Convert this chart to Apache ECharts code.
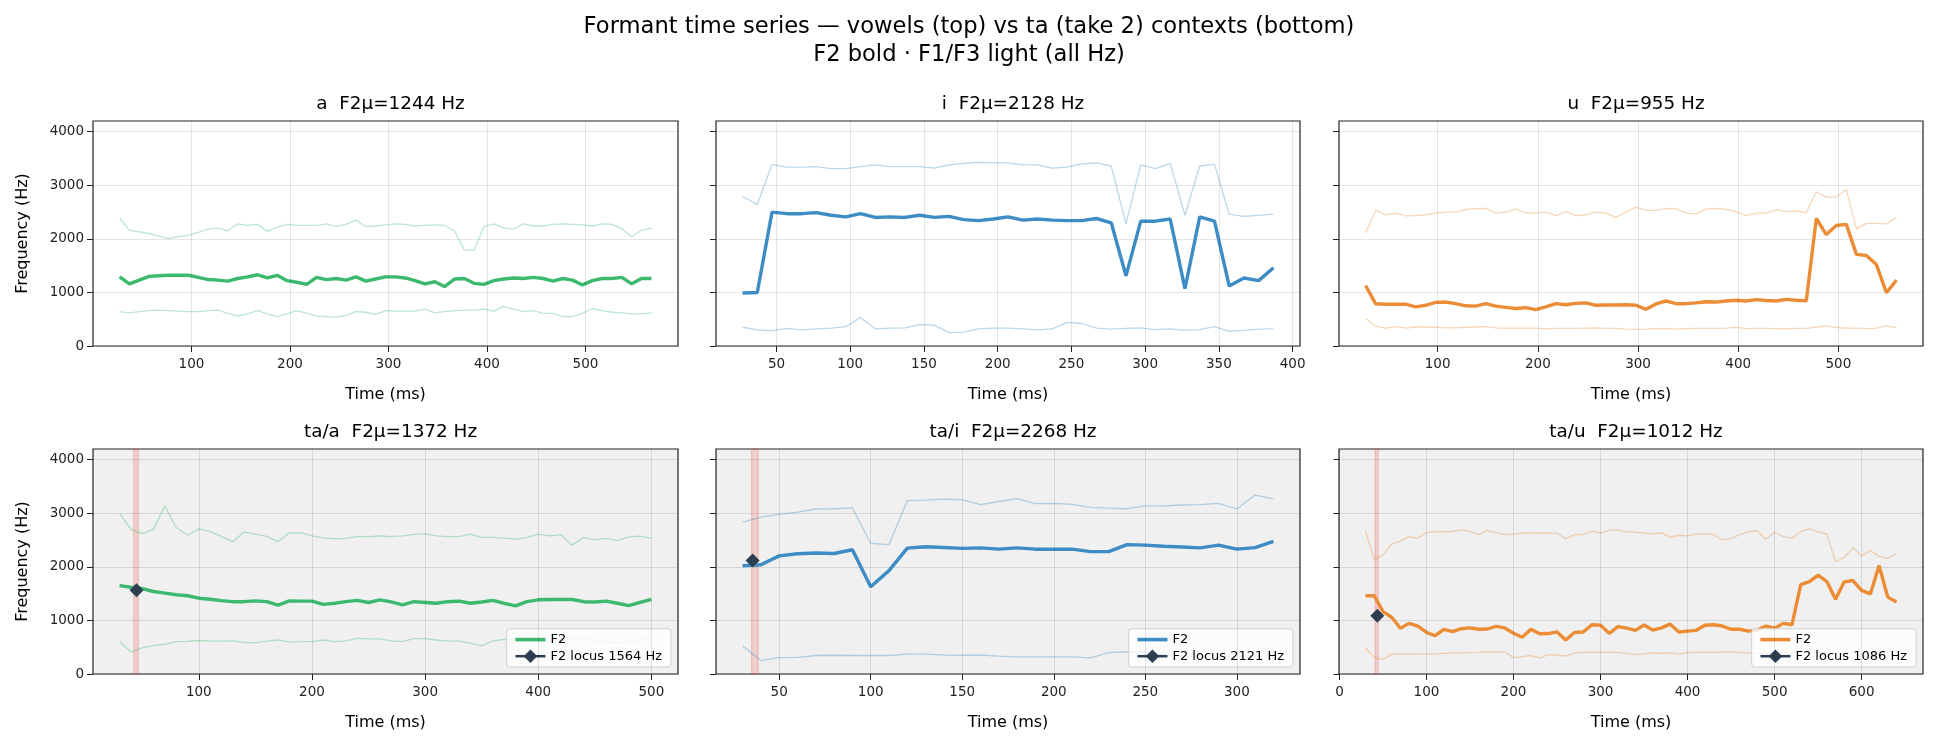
<!DOCTYPE html>
<html>
<head>
<meta charset="utf-8">
<script src="https://cdn.jsdelivr.net/npm/echarts@6/dist/echarts.min.js"></script>
<style>
  html, body { margin: 0; padding: 0; background: #fff; }
  #chart { width: 1938px; height: 745px; }
</style>
</head>
<body>
<div id="chart"></div>
<script>
// sample times (ms) and formant tracks (Hz)

// --- vowel a ---
const aTimes = [27, 37, 47, 57, 67, 77, 87, 97, 107, 117, 127, 137, 147, 157, 167, 177, 187, 197, 207, 217,
  227, 237, 247, 257, 267, 277, 287, 297, 307, 317, 327, 337, 347, 357, 367, 377, 387, 397, 407, 417,
  427, 437, 447, 457, 467, 477, 487, 497, 507, 517, 527, 537, 547, 557, 567]
const aF1 = [640, 620, 640, 660, 670, 660, 650, 640, 640, 660, 670, 610, 560, 600, 660, 600, 550, 600, 660, 610,
  560, 550, 540, 570, 640, 630, 590, 660, 650, 650, 650, 690, 620, 640, 660, 670, 670, 690, 650, 740,
  690, 640, 660, 610, 610, 550, 550, 610, 700, 660, 630, 620, 600, 600, 620]
const aF2 = [1290, 1160, 1230, 1300, 1310, 1320, 1320, 1320, 1280, 1240, 1230, 1210, 1260, 1290, 1330, 1270, 1320, 1220, 1190, 1150,
  1280, 1240, 1260, 1230, 1290, 1210, 1250, 1290, 1290, 1270, 1220, 1160, 1200, 1110, 1250, 1260, 1170, 1150, 1220, 1250,
  1270, 1260, 1280, 1260, 1210, 1260, 1230, 1140, 1220, 1260, 1260, 1280, 1160, 1260, 1260]
const aF3 = [2390, 2160, 2130, 2100, 2050, 2010, 2040, 2070, 2120, 2180, 2200, 2150, 2280, 2250, 2270, 2140, 2220, 2270, 2250, 2250,
  2250, 2280, 2230, 2270, 2350, 2230, 2240, 2260, 2280, 2270, 2240, 2250, 2260, 2250, 2150, 1790, 1790, 2230, 2280, 2200,
  2180, 2280, 2240, 2240, 2270, 2280, 2270, 2260, 2240, 2280, 2270, 2190, 2040, 2160, 2200]

// --- vowel i ---
const iTimes = [27, 37, 47, 57, 67, 77, 87, 97, 107, 117, 127, 137, 147, 157, 167, 177, 187, 197, 207, 217,
  227, 237, 247, 257, 267, 277, 287, 297, 307, 317, 327, 337, 347, 357, 367, 377, 387]
const iF1 = [350, 300, 285, 330, 300, 320, 335, 360, 530, 320, 335, 340, 400, 390, 250, 260, 320, 335, 335, 320,
  300, 320, 440, 420, 335, 315, 330, 340, 305, 320, 290, 305, 360, 275, 290, 315, 320]
const iF2 = [990, 1000, 2500, 2470, 2470, 2490, 2440, 2410, 2470, 2400, 2410, 2400, 2440, 2400, 2420, 2360, 2340, 2370, 2410, 2350,
  2370, 2350, 2340, 2340, 2380, 2300, 1310, 2330, 2330, 2370, 1070, 2410, 2330, 1120, 1270, 1220, 1460]
const iF3 = [2790, 2640, 3390, 3340, 3340, 3350, 3310, 3310, 3350, 3380, 3350, 3350, 3350, 3320, 3380, 3410, 3430, 3420, 3420, 3380,
  3380, 3320, 3340, 3400, 3420, 3360, 2280, 3380, 3310, 3410, 2440, 3360, 3390, 2460, 2420, 2440, 2460]

// --- vowel u ---
const uTimes = [28, 38, 48, 58, 68, 78, 88, 98, 108, 118, 128, 138, 148, 158, 168, 178, 188, 198, 208, 218,
  228, 238, 248, 258, 268, 278, 288, 298, 308, 318, 328, 338, 348, 358, 368, 378, 388, 398, 408, 418,
  428, 438, 448, 458, 468, 478, 488, 498, 508, 518, 528, 538, 548, 558]
const uF1 = [515, 375, 330, 360, 335, 355, 355, 350, 340, 340, 350, 355, 360, 340, 335, 335, 335, 335, 320, 330,
  330, 330, 335, 340, 330, 330, 315, 310, 315, 325, 330, 315, 325, 330, 330, 330, 335, 350, 325, 330,
  330, 325, 320, 330, 330, 355, 375, 345, 335, 335, 325, 335, 375, 345]
const uF2 = [1130, 790, 780, 780, 780, 730, 760, 815, 820, 790, 750, 745, 790, 745, 720, 700, 715, 680, 730, 790,
  770, 795, 805, 760, 765, 765, 770, 760, 685, 785, 840, 790, 790, 805, 825, 820, 840, 855, 840, 865,
  850, 840, 870, 855, 845, 2380, 2080, 2250, 2270, 1710, 1690, 1520, 995, 1230]
const uF3 = [2110, 2530, 2450, 2480, 2430, 2435, 2450, 2480, 2500, 2500, 2550, 2565, 2570, 2480, 2500, 2560, 2480, 2480, 2500, 2435,
  2510, 2435, 2450, 2500, 2480, 2400, 2500, 2590, 2530, 2530, 2570, 2560, 2480, 2465, 2560, 2570, 2550, 2510, 2435, 2480,
  2480, 2540, 2510, 2520, 2490, 2880, 2780, 2780, 2920, 2190, 2290, 2290, 2280, 2400]

// --- ta/a ---
const taATimes = [30, 40, 50, 60, 70, 80, 90, 100, 110, 120, 130, 140, 150, 160, 170, 180, 190, 200, 210, 220,
  230, 240, 250, 260, 270, 280, 290, 300, 310, 320, 330, 340, 350, 360, 370, 380, 390, 400, 410, 420,
  430, 440, 450, 460, 470, 480, 490, 500]
const taAF1 = [605, 415, 490, 530, 555, 605, 610, 625, 615, 615, 620, 590, 580, 615, 635, 595, 605, 605, 635, 605,
  620, 665, 655, 655, 620, 605, 660, 660, 635, 620, 615, 575, 525, 620, 645, 635, 620, 605, 620, 635,
  635, 665, 635, 605, 575, 605, 645, 665]
const taAF2 = [1650, 1620, 1595, 1540, 1510, 1480, 1460, 1415, 1395, 1370, 1350, 1350, 1365, 1350, 1285, 1365, 1360, 1360, 1300, 1320,
  1350, 1375, 1335, 1385, 1345, 1290, 1350, 1335, 1320, 1350, 1360, 1320, 1345, 1375, 1320, 1270, 1350, 1385, 1390, 1390,
  1390, 1350, 1345, 1360, 1320, 1275, 1335, 1395]
const taAF3 = [3000, 2700, 2620, 2700, 3140, 2735, 2590, 2710, 2660, 2570, 2470, 2650, 2610, 2570, 2470, 2635, 2640, 2580, 2540, 2525,
  2530, 2565, 2565, 2580, 2565, 2580, 2605, 2615, 2580, 2565, 2565, 2610, 2550, 2550, 2535, 2515, 2550, 2610, 2580, 2600,
  2405, 2550, 2505, 2530, 2490, 2560, 2575, 2535]

// --- ta/i ---
const taITimes = [30, 40, 50, 60, 70, 80, 90, 100, 110, 120, 130, 140, 150, 160, 170, 180, 190, 200, 210, 220,
  230, 240, 250, 260, 270, 280, 290, 300, 310, 320]
const taIF1 = [525, 250, 305, 310, 345, 350, 345, 345, 345, 370, 370, 355, 350, 355, 335, 320, 320, 320, 320, 300,
  400, 415, 415, 355, 335, 325, 335, 325, 335, 335]
const taIF2 = [2020, 2040, 2205, 2245, 2260, 2250, 2320, 1630, 1930, 2350, 2375, 2360, 2345, 2355, 2330, 2355, 2330, 2330, 2330, 2285,
  2285, 2415, 2405, 2385, 2370, 2355, 2405, 2330, 2360, 2475]
const taIF3 = [2835, 2930, 2980, 3020, 3080, 3085, 3100, 2440, 2415, 3235, 3245, 3265, 3250, 3160, 3220, 3275, 3180, 3185, 3165, 3110,
  3095, 3085, 3140, 3140, 3155, 3160, 3185, 3080, 3340, 3270]

// --- ta/u ---
const taUTimes = [30, 40, 50, 60, 70, 80, 90, 100, 110, 120, 130, 140, 150, 160, 170, 180, 190, 200, 210, 220,
  230, 240, 250, 260, 270, 280, 290, 300, 310, 320, 330, 340, 350, 360, 370, 380, 390, 400, 410, 420,
  430, 440, 450, 460, 470, 480, 490, 500, 510, 520, 530, 540, 550, 560, 570, 580, 590, 600, 610, 620,
  630, 640]
const taUF1 = [485, 305, 275, 370, 375, 370, 375, 375, 375, 385, 395, 395, 400, 405, 415, 410, 410, 305, 325, 345,
  300, 360, 355, 335, 395, 405, 405, 405, 405, 405, 385, 360, 375, 395, 385, 395, 370, 400, 405, 405,
  405, 410, 410, 405, 385, 385, 380, 385, 405, 405, 410, 405, 405, 400, 400, 395, 400, 405, 410, 415,
  405, 405]
const taUF2 = [1460, 1460, 1165, 1060, 855, 945, 895, 775, 715, 835, 790, 845, 860, 835, 840, 890, 860, 760, 685, 835,
  750, 755, 785, 635, 775, 785, 920, 910, 760, 885, 855, 815, 915, 820, 860, 930, 785, 800, 815, 910,
  920, 895, 835, 835, 800, 820, 895, 855, 945, 920, 1670, 1725, 1845, 1725, 1395, 1720, 1745, 1560, 1495, 2025,
  1435, 1345]
const taUF3 = [2675, 2130, 2220, 2430, 2480, 2565, 2535, 2640, 2655, 2655, 2660, 2690, 2660, 2600, 2675, 2640, 2600, 2610, 2630, 2630,
  2630, 2635, 2630, 2525, 2605, 2600, 2665, 2630, 2685, 2685, 2655, 2650, 2630, 2615, 2635, 2555, 2590, 2580, 2615, 2615,
  2600, 2505, 2530, 2600, 2660, 2675, 2515, 2650, 2565, 2535, 2660, 2715, 2655, 2610, 2095, 2180, 2355, 2205, 2305, 2195,
  2155, 2245]

// burst spans and F2 loci for the ta contexts
const burstA = [42.5, 46.5], locusA = [45, 1564]
const burstI = [35, 38.5], locusI = [35.5, 2121]
const burstU = [41, 44.5], locusU = [43.5, 1086]

// tick values
const yTicks = [0, 1000, 2000, 3000, 4000]
const ticks100 = [100, 200, 300, 400, 500]
const ticks50i = [50, 100, 150, 200, 250, 300, 350, 400]
const ticks50ti = [50, 100, 150, 200, 250, 300]
const ticks0to600 = [0, 100, 200, 300, 400, 500, 600]

const GREEN = '#3cb96f', BLUE = '#3d8cc6', ORANGE = '#ec8d36', LOCUS = '#2c3e50'
const FONT = 'DejaVu Sans'

const zip = (xs, ys) => xs.map((x, i) => [x, ys[i]])

const panels = [
  { title: 'a  F2\u03bc=1244 Hz', t: aTimes, f1: aF1, f2: aF2, f3: aF3, color: GREEN, x: [0, 594], xt: ticks100,
    left: 93, width: 585, top: 121, ylab: true },
  { title: 'i  F2\u03bc=2128 Hz', t: iTimes, f1: iF1, f2: iF2, f3: iF3, color: BLUE, x: [9, 405], xt: ticks50i,
    left: 716, width: 584, top: 121 },
  { title: 'u  F2\u03bc=955 Hz', t: uTimes, f1: uF1, f2: uF2, f3: uF3, color: ORANGE, x: [1.5, 584.5], xt: ticks100,
    left: 1339, width: 584, top: 121 },
  { title: 'ta/a  F2\u03bc=1372 Hz', t: taATimes, f1: taAF1, f2: taAF2, f3: taAF3, color: GREEN, x: [6.5, 523.5], xt: ticks100,
    left: 93, width: 585, top: 449, ylab: true, ctx: true, burst: burstA, locus: locusA },
  { title: 'ta/i  F2\u03bc=2268 Hz', t: taITimes, f1: taIF1, f2: taIF2, f3: taIF3, color: BLUE, x: [15.5, 334.5], xt: ticks50ti,
    left: 716, width: 584, top: 449, ctx: true, burst: burstI, locus: locusI },
  { title: 'ta/u  F2\u03bc=1012 Hz', t: taUTimes, f1: taUF1, f2: taUF2, f3: taUF3, color: ORANGE, x: [-0.5, 670.5], xt: ticks0to600,
    left: 1339, width: 584, top: 449, ctx: true, burst: burstU, locus: locusU },
]

const H = 225
const grid = [], xAxis = [], yAxis = [], series = [], legend = []
const title = [{
  text: 'Formant time series \u2014 vowels (top) vs ta (take 2) contexts (bottom)\nF2 bold \u00b7 F1/F3 light (all Hz)',
  left: 'center', top: 8,
  textStyle: { fontFamily: FONT, fontSize: 22.6, fontWeight: 'normal', color: '#000', lineHeight: 28 },
}]

panels.forEach((p, k) => {
  grid.push({
    left: p.left, top: p.top, width: p.width, height: H, show: true,
    backgroundColor: p.ctx ? '#f0f0f0' : '#ffffff', borderColor: '#222', borderWidth: 1.2,
  })
  title.push({
    text: p.title, left: p.left + p.width / 2, top: p.top - 31, textAlign: 'center',
    textStyle: { fontFamily: FONT, fontSize: 18.4, fontWeight: 'normal', color: '#000' },
  })
  xAxis.push({
    type: 'value', gridIndex: k, min: p.x[0], max: p.x[1],
    name: 'Time (ms)', nameLocation: 'middle', nameGap: 41,
    nameTextStyle: { fontFamily: FONT, fontSize: 16, color: '#000' },
    axisLine: { show: false },
    axisTick: { show: true, length: 6, lineStyle: { color: '#222' }, customValues: p.xt },
    axisLabel: { fontFamily: FONT, fontSize: 13.5, color: '#222', margin: 11, customValues: p.xt },
    splitLine: { show: false },
  })
  yAxis.push({
    type: 'value', gridIndex: k, min: 0, max: 4200,
    name: p.ylab ? 'Frequency (Hz)' : '', nameLocation: 'middle', nameGap: 62,
    nameTextStyle: { fontFamily: FONT, fontSize: 16, color: '#000' },
    axisLine: { show: false },
    axisTick: { show: true, length: 6, lineStyle: { color: '#222' }, customValues: yTicks },
    axisLabel: { show: !!p.ylab, fontFamily: FONT, fontSize: 13.5, color: '#222', margin: 9,
      customValues: yTicks, formatter: v => String(v) },
    splitLine: { show: true, lineStyle: { color: 'rgba(0,0,0,0.1)', width: 1 } },
  })

  // vertical grid lines and burst span
  const decor = {
    type: 'line', name: 'decor' + k, xAxisIndex: k, yAxisIndex: k, data: [], z: 1, silent: true,
    markLine: {
      silent: true, symbol: ['none', 'none'], label: { show: false }, animation: false,
      lineStyle: { color: 'rgba(0,0,0,0.1)', width: 1, type: 'solid' },
      data: p.xt.map(v => ({ xAxis: v })),
    },
  }
  if (p.burst) {
    decor.markArea = {
      silent: true, animation: false,
      itemStyle: { color: 'rgba(231,76,60,0.2)', borderColor: 'rgba(231,76,60,0.3)', borderWidth: 1 },
      data: [[{ xAxis: p.burst[0] }, { xAxis: p.burst[1] }]],
    }
  }
  series.push(decor)

  const light = (name, vals) => ({
    type: 'line', name, xAxisIndex: k, yAxisIndex: k, data: zip(p.t, vals), symbol: 'none', z: 2,
    lineStyle: { color: p.color, width: 1.3, opacity: 0.35 }, itemStyle: { color: p.color },
  })
  series.push(light('F1 ' + k, p.f1))
  series.push(light('F3 ' + k, p.f3))
  series.push({
    type: 'line', name: 'F2 ' + k, xAxisIndex: k, yAxisIndex: k, data: zip(p.t, p.f2), symbol: 'none', z: 3,
    lineStyle: { color: p.color, width: 3.4 }, itemStyle: { color: p.color },
  })

  if (p.locus) {
    series.push({
      type: 'line', name: 'locus ' + k, xAxisIndex: k, yAxisIndex: k, data: [p.locus], z: 5,
      symbol: 'path://M5,0 L10,5 L5,10 L0,5 Z', symbolSize: 14, showSymbol: true,
      lineStyle: { color: LOCUS, width: 2.5 }, itemStyle: { color: LOCUS },
    })
    legend.push({
      data: [
        { name: 'F2 ' + k, itemStyle: { opacity: 0 }, lineStyle: { width: 3.6 } },
        { name: 'locus ' + k, lineStyle: { width: 2.5 } },
      ],
      orient: 'vertical',
      right: 1938 - (p.left + p.width) + 7, bottom: 745 - (p.top + H) + 7,
      itemWidth: 30, itemHeight: 17, itemGap: 3, padding: [4, 9, 4, 7],
      backgroundColor: 'rgba(255,255,255,0.8)', borderColor: '#d0d0d0', borderWidth: 1, borderRadius: 3,
      textStyle: { fontFamily: FONT, fontSize: 13, color: '#000' },
      selectedMode: false,
      formatter: name => name.startsWith('locus') ? 'F2 locus ' + p.locus[1] + ' Hz' : 'F2',
    })
  }
})

const chart = echarts.init(document.getElementById('chart'), null, { renderer: 'canvas' })
chart.setOption({
  animation: false,
  backgroundColor: '#ffffff',
  title, grid, xAxis, yAxis, series, legend,
})
</script>
</body>
</html>
